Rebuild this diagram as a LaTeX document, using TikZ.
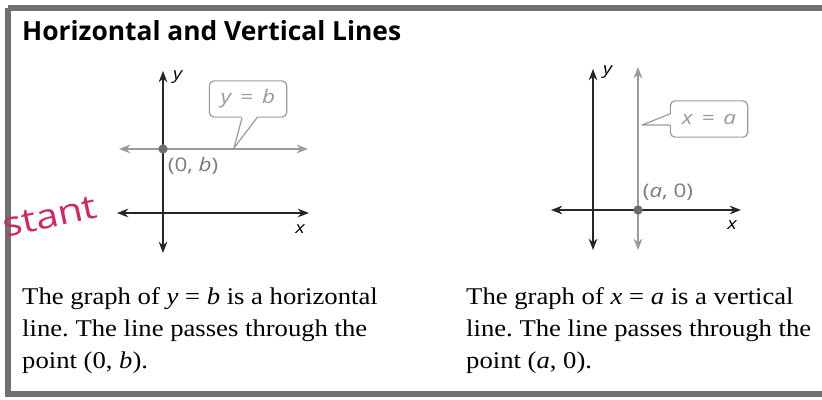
\documentclass[tikz,border=0pt]{standalone}
\usepackage{fontspec}
\usepackage{tikz}
\usetikzlibrary{arrows.meta,positioning,calc}
\setmainfont{Liberation Serif}
\newfontfamily\labelfont{Open Sans}[FakeStretch=1.2]
\newfontfamily\titlefont{Open Sans}
\newfontfamily\bodyfont{Liberation Serif}[FakeStretch=1.11]
\definecolor{framegray}{HTML}{707070}
\definecolor{linegray}{HTML}{9A9A9A}
\definecolor{labelgray}{HTML}{7C7C7C}
\definecolor{inkpink}{HTML}{CC2A66}
\tikzset{
  axis/.style={{Stealth[length=3.4mm,width=2.6mm]}-{Stealth[length=3.4mm,width=2.6mm]},
    line width=1.3pt, draw=black!85},
  graphline/.style={axis, draw=linegray, line width=1.6pt},
  ptdot/.style={circle, fill=linegray!70!black, inner sep=2.8pt},
  calloutbox/.style={draw=linegray, line width=1pt, rounded corners=4pt, fill=white,
    minimum width=66pt, minimum height=31pt, inner sep=2pt, text=linegray,
    font=\labelfont\itshape\fontsize{16}{16}\selectfont},
  calloutline/.style={draw=linegray, line width=1pt, line join=round},
  ptlabel/.style={text=labelgray, inner sep=0pt, font=\labelfont\fontsize{16}{16}\selectfont},
  axlabel/.style={inner sep=0pt, font=\labelfont\itshape\fontsize{14}{14}\selectfont},
  bodytext/.style={anchor=north west, align=left, inner sep=0pt,
    font=\bodyfont\fontsize{20.5}{27.6}\selectfont}
}
\frenchspacing
\begin{document}
\begin{tikzpicture}[x=0.03cm,y=-0.03cm]
    \useasboundingbox (0,0) rectangle (822,400);
    \clip (0,0) rectangle (822,400);
    \fill[white] (0,0) rectangle (822,400);
    % frame and title
    \draw[framegray, line width=5pt] (8,8) -- (840,8) (8,8) -- (8,394) -- (840,394);
    \node[anchor=west, inner sep=0pt, font=\titlefont\bfseries\fontsize{22.5}{22.5}\selectfont]
      (title) at (22,31) {Horizontal and Vertical Lines};
    \node[inkpink, rotate=12, anchor=south west, inner sep=0pt,
      font=\labelfont\fontsize{29}{29}\selectfont] (note) at (5,238) {stant};

    % left graph: y = b
    \draw[axis] (163,253) -- (163,71);
    \draw[axis] (117,213) -- (309,213);
    \node[axlabel, anchor=west] (ly) at (173,77) {y};
    \node[axlabel] (lx) at (300,229) {x};
    \draw[graphline] (119,149) -- (308,149);
    \node[ptdot] (pb) at (163,149) {};
    \node[ptlabel, below right=4pt and 1pt of pb] (pblab) {(0, \textit{b})};
    \node[calloutbox] (yb) at (248,99) {y \,=\, b};
    \coordinate (tipb) at (234,148);
    \fill[white] ($(yb.south)+(-6,-2)$) -- (tipb) -- ($(yb.south)+(9,-2)$) -- cycle;
    \draw[calloutline] ($(yb.south)+(-6,0)$) -- (tipb) -- ($(yb.south)+(9,0)$);

    % right graph: x = a
    \draw[axis] (593,250) -- (593,69);
    \draw[graphline] (638,250) -- (638,67);
    \draw[axis] (551,210) -- (741,210);
    \node[axlabel, anchor=west] (ry) at (603,72) {y};
    \node[axlabel] (rx) at (732,225) {x};
    \node[ptdot] (pa) at (638,210) {};
    \node[ptlabel, above right=5pt and 1pt of pa] (palab) {(\textit{a}, 0)};
    \node[calloutbox] (xa) at (709,119) {x \,=\, a};
    \coordinate (tipa) at (642,125);
    \fill[white] ($(xa.west)+(2,-5)$) -- (tipa) -- ($(xa.west)+(2,6)$) -- cycle;
    \draw[calloutline] ($(xa.west)+(0,-5)$) -- (tipa) -- ($(xa.west)+(0,6)$);

    % texts
    \node[bodytext] (ltext) at (22,287)
      {The graph of \textit{y} = \textit{b} is a horizontal\\
       line. The line passes through the\\
       point (0, \textit{b}).};
    \node[bodytext] (rtext) at (466,287)
      {The graph of \textit{x} = \textit{a} is a vertical\\
       line. The line passes through the\\
       point (\textit{a}, 0).};
\end{tikzpicture}
\end{document}
